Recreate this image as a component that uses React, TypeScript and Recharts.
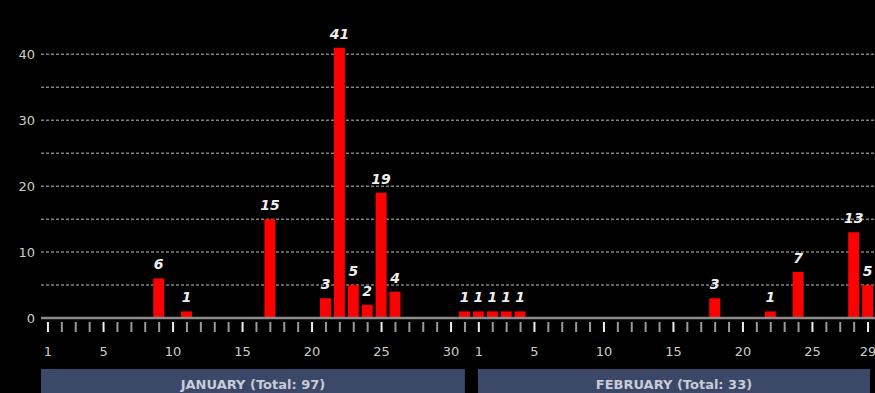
import React from "react";
import {
  BarChart,
  Bar,
  XAxis,
  YAxis,
  CartesianGrid,
  LabelList,
} from "recharts";

const janValues = [
  0, 0, 0, 0, 0, 0, 0, 0, 6, 0, 1, 0, 0, 0, 0, 0, 15, 0, 0, 0, 3, 41, 5, 2, 19, 4, 0, 0, 0, 0, 1,
];
const febValues = [
  1, 1, 1, 1, 0, 0, 0, 0, 0, 0, 0, 0, 0, 0, 0, 0, 0, 3, 0, 0, 0, 1, 0, 7, 0, 0, 0, 13, 5,
];
const months = ["JANUARY", "FEBRUARY"];
const monthTotals = [97, 33];
const yTicks = [0, 5, 10, 15, 20, 25, 30, 35, 40];

const data = [
  ...janValues.map((v, i) => ({ key: `jan-${i + 1}`, day: i + 1, last: false, value: v })),
  ...febValues.map((v, i) => ({ key: `feb-${i + 1}`, day: i + 1, last: i === febValues.length - 1, value: v })),
];

const monthSpans = [janValues.length, febValues.length];
const totalDays = data.length;
// index of the band that sits in the middle of each month
const monthMidIndex = [15, janValues.length + 14];
// panel insets (left, right) so the two blocks leave a gap between them
const panelInsets = [
  [0, 7],
  [6, 5],
];

const FONT = "'DejaVu Sans', Verdana, sans-serif";

const DayTick = ({ x, y, index }: any) => {
  const d = data[index];
  if (!d) return null;
  const labeled = d.day === 1 || d.day % 5 === 0 || d.last;
  return (
    <g>
      <line
        x1={x}
        x2={x}
        y1={y + 4}
        y2={y + 14}
        stroke={labeled ? "#f0f0f0" : "#9a9a9a"}
        strokeWidth={2}
      />
      {labeled && (
        <text
          x={x}
          y={y + 38}
          textAnchor="middle"
          fill="#cccccc"
          fontSize={13}
          fontFamily={FONT}
        >
          {d.day}
        </text>
      )}
    </g>
  );
};

const MonthTick = ({ x, y, index, width }: any) => {
  const m = monthMidIndex.indexOf(index);
  if (m < 0) return null;
  const dayWidth = width / totalDays;
  const span = monthSpans[m] * dayWidth;
  const left = x - span / 2 + panelInsets[m][0];
  const right = x + span / 2 - panelInsets[m][1];
  return (
    <g>
      <rect x={left} y={y + 1} width={right - left} height={30} fill="#3b4868" />
      <text
        x={(left + right) / 2}
        y={y + 21}
        textAnchor="middle"
        fill="#c8ccd8"
        fontSize={13}
        fontWeight="bold"
        fontFamily={FONT}
      >
        {`${months[m]} (Total: ${monthTotals[m]})`}
      </text>
    </g>
  );
};

const ValueLabel = ({ x, y, width, value }: any) => {
  if (!value) return null;
  return (
    <text
      x={x + width / 2}
      y={y - 9}
      textAnchor="middle"
      fill="#eeeeee"
      fontSize={14}
      fontWeight="bold"
      fontStyle="italic"
      fontFamily={FONT}
    >
      {value}
    </text>
  );
};

export default function App() {
  return (
    <div
      style={{
        position: "absolute",
        left: 0,
        top: 0,
        width: 875,
        height: 393,
        background: "#000",
        overflow: "hidden",
      }}
    >
      <BarChart
        width={875}
        height={393}
        data={data}
        margin={{ top: 28, right: 0, left: 0, bottom: 0 }}
        barCategoryGap={0}
      >
        <CartesianGrid
          vertical={false}
          stroke="#808080"
          strokeDasharray="3 2"
          strokeWidth={1.5}
          horizontalValues={yTicks}
        />
        <XAxis
          dataKey="key"
          type="category"
          interval={0}
          height={50}
          tickLine={false}
          tickSize={0}
          tickMargin={0}
          axisLine={{ stroke: "#8c8c8c", strokeWidth: 2.5 }}
          tick={<DayTick />}
        />
        <XAxis
          xAxisId="month"
          dataKey="key"
          type="category"
          interval={0}
          height={25}
          axisLine={false}
          tickLine={false}
          tickSize={0}
          tickMargin={0}
          tick={<MonthTick />}
        />
        <YAxis
          width={41}
          domain={[0, 44]}
          ticks={yTicks}
          interval={0}
          axisLine={false}
          tickLine={false}
          tickSize={0}
          tickMargin={6}
          tickFormatter={(v: number) => (v % 10 === 0 ? String(v) : "")}
          tick={{ fill: "#cccccc", fontSize: 13, fontFamily: FONT }}
        />
        <Bar dataKey="value" fill="#ff0000" barSize={11} isAnimationActive={false}>
          <LabelList dataKey="value" content={<ValueLabel />} />
        </Bar>
      </BarChart>
    </div>
  );
}
